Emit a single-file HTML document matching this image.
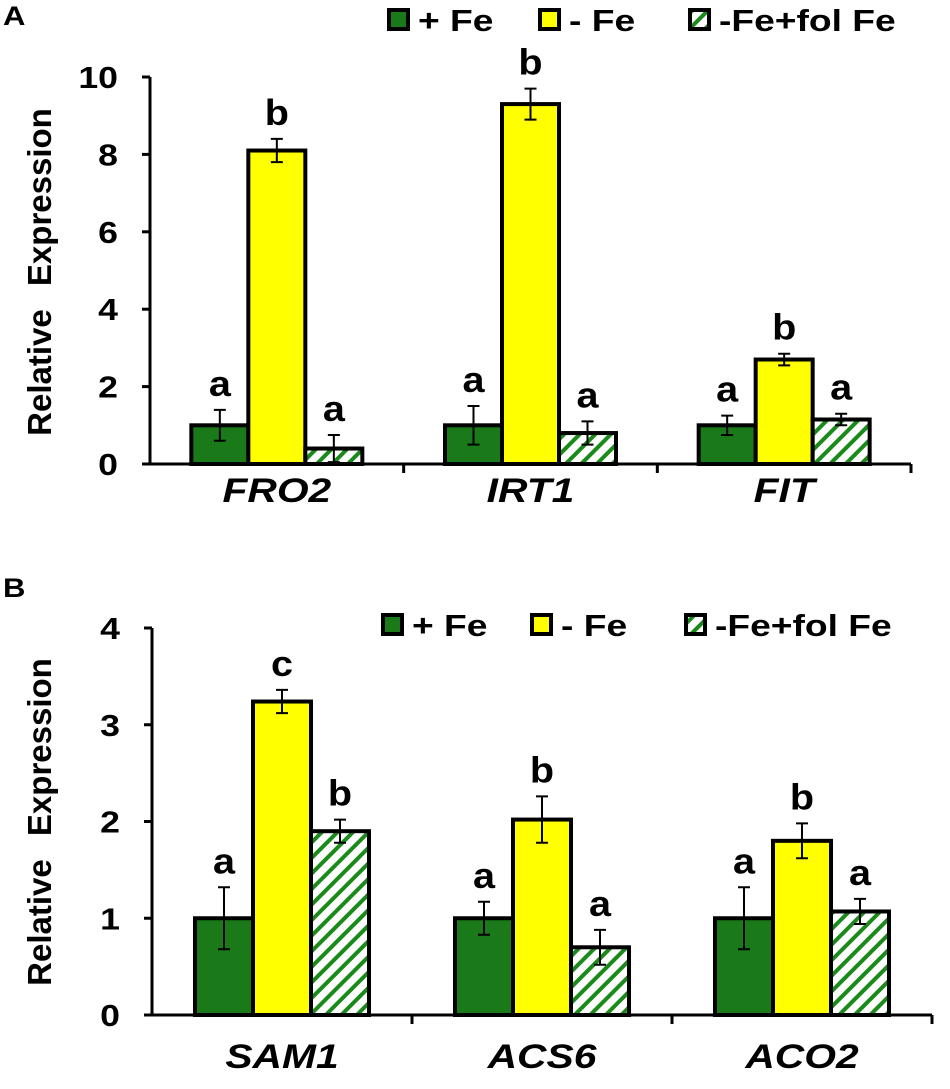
<!DOCTYPE html>
<html><head><meta charset="utf-8"><style>
body{margin:0;background:#fff}
svg text{font-family:"Liberation Sans",Arial,sans-serif;font-weight:bold;fill:#000}
</style></head><body>
<svg id="chart" width="950" height="1084" xmlns="http://www.w3.org/2000/svg">
<defs>
<pattern id="hatch" patternUnits="userSpaceOnUse" width="11" height="11" patternTransform="rotate(45)">
<rect width="11" height="11" fill="#fff"/><rect x="0" y="0" width="4" height="11" fill="#1a8a1a"/>
</pattern>
</defs>
<text transform="translate(3,25) scale(1.15,1)" font-size="27">A</text>
<text transform="translate(3,597) scale(1.15,1)" font-size="27">B</text>
</svg>
<script>
const seriesNames=["+ Fe","- Fe","-Fe+fol Fe"];
const catsA=["FRO2","IRT1","FIT"];
const meanA=[[1.0,1.0,1.0],[8.1,9.3,2.7],[0.4,0.8,1.15]];
const errA=[[0.4,0.5,0.25],[0.3,0.4,0.15],[0.35,0.3,0.15]];
const letA=[["a","a","a"],["b","b","b"],["a","a","a"]];
const ticksA=[0,2,4,6,8,10];
const catsB=["SAM1","ACS6","ACO2"];
const meanB=[[1.0,1.0,1.0],[3.24,2.02,1.8],[1.9,0.7,1.07]];
const errB=[[0.32,0.17,0.32],[0.12,0.24,0.18],[0.12,0.18,0.13]];
const letB=[["a","a","a"],["c","b","b"],["b","a","a"]];
const ticksB=[0,1,2,3,4];

const svg=document.getElementById('chart');
const NS="http://www.w3.org/2000/svg";
function mk(tag,attrs,parent){const e=document.createElementNS(NS,tag);for(const k in attrs)e.setAttribute(k,attrs[k]);(parent||svg).appendChild(e);return e;}
function txt(parent,x,y,str,size,anchor,sx,extra){
  const a={transform:`translate(${x},${y}) scale(${sx},1)`,'font-size':size,'text-anchor':anchor};
  for(const k in (extra||{}))a[k]=extra[k];
  const t=mk('text',a,parent);t.textContent=str;return t;
}
const fills=["#1a7a1a","#ffff00","url(#hatch)"];

function panel(p){
  const g=mk('g',{});
  
  
  const y=v=>p.y0-(v/p.ymax)*(p.y0-p.yTop);
  const cw=(p.xEnd-p.x0)/p.cats.length;
  const ya=mk('line',{x1:p.x0,y1:p.yTop,x2:p.x0,y2:p.y0,stroke:'#000','stroke-width':3},g);
  
  
  const xa=mk('line',{x1:p.x0-8,y1:p.y0,x2:p.xEnd,y2:p.y0,stroke:'#000','stroke-width':3},g);
  
  
  p.ticks.forEach(t=>{
    mk('line',{x1:p.x0-8,y1:y(t),x2:p.x0,y2:y(t),stroke:'#000','stroke-width':3},g);
    const tl=txt(g,p.x0-32,y(t)+11,String(t),31,'end',1.15);
    
    
  });
  for(let i=1;i<=p.cats.length;i++){
    mk('line',{x1:p.x0+cw*i,y1:p.y0,x2:p.x0+cw*i,y2:p.y0+9,stroke:'#000','stroke-width':3},g);
  }
  const yt=mk('text',{x:0,y:0,'font-size':33,'text-anchor':'middle',transform:`translate(${p.ytx},${p.ytY}) rotate(-90)`},g);
  yt.innerHTML='Relative<tspan dx="14"> Expression</tspan>';
  
  
  p.cats.forEach((c,ci)=>{
    const cx=p.x0+cw*ci+cw/2;
    const cl=txt(g,cx,p.catY,c,34,'middle',1.2,{'font-style':'italic'});
    
    
    for(let s=0;s<3;s++){
      const bx=cx+(s-1.5)*p.bw;
      const v=p.mean[s][ci],e=p.err[s][ci];
      const r=mk('rect',{x:bx,y:y(v),width:p.bw,height:p.y0-y(v),fill:fills[s],stroke:'#000','stroke-width':4},g);
      
      
      const mx=bx+p.bw/2;
      const eb=mk('path',{d:`M${mx},${y(v+e)}V${y(v-e)}M${mx-6},${y(v+e)}H${mx+6}M${mx-6},${y(v-e)}H${mx+6}`,stroke:'#000','stroke-width':2,fill:'none'},g);
      
      
      const lt=txt(g,mx,y(v+e)-14,p.let[s][ci],36,'middle',1.1);
      
      
    }
  });
  p.legX.forEach((lx,s)=>{
    const le=mk('g',{},g);
    
    
    mk('rect',{x:lx+2,y:p.legY-21,width:19,height:19,fill:fills[s],stroke:'#000','stroke-width':4},le);
    txt(le,lx+31,p.legY,seriesNames[s],31,'start',1.2);
  });
}
panel({id:'panel-a',cats:catsA,mean:meanA,err:errA,let:letA,ticks:ticksA,ymax:10,x0:150,xEnd:911,y0:464,yTop:77,bw:57,catY:502,ytx:51,ytY:272,legX:[387,538,688],legY:31});
panel({id:'panel-b',cats:catsB,mean:meanB,err:errB,let:letB,ticks:ticksB,ymax:4,x0:152,xEnd:932,y0:1015,yTop:628,bw:58,catY:1068,ytx:51,ytY:822,legX:[381,530,684],legY:636});
</script>
</body></html>
